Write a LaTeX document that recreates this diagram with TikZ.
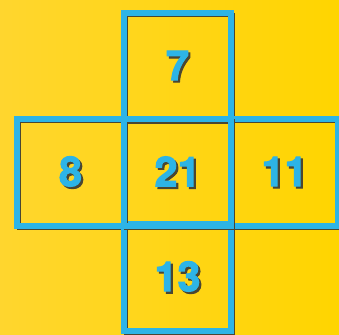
\documentclass[tikz,border=0pt]{standalone}
\usepackage{fontspec}
\setmainfont{TeX Gyre Heros}
\newfontfamily\numfont[BoldFeatures={FakeBold=2.5}]{TeX Gyre Heros}
\definecolor{bgleft}{HTML}{FFD62E}
\definecolor{bgright}{HTML}{FFD500}
\definecolor{cyanline}{HTML}{2DB4E6}
\definecolor{shadowcol}{HTML}{4A4632}
\newcommand{\shadownum}[1]{\makebox[0pt][l]{\hspace{1.6pt}\raisebox{-1.6pt}{\textcolor{shadowcol}{#1}}}#1}
\tikzset{
  cell/.style={minimum width=107*0.75pt, minimum height=107*0.75pt, inner sep=0pt, outer sep=0pt,
    preaction={draw=shadowcol, line width=2.5pt, transform canvas={shift={(1.6pt,-1.6pt)}}},
    draw=cyanline, line width=4.1pt},
  num/.style={text=cyanline, font=\numfont\bfseries\fontsize{31}{31}\selectfont},
}
\begin{document}
\begin{tikzpicture}[x=0.75pt,y=-0.75pt]
\shade[left color=bgleft, right color=bgright] (0,0) rectangle (339,335);
\useasboundingbox (0,0) rectangle (339,335);
\node[cell] (top) at (177.5,66.5) {};
\node[cell] (left) at (70.5,172.5) {};
\node[cell] (right) at (284.5,172.5) {};
\node[cell] (bottom) at (177.5,277.5) {};
\node[cell] (center) at (177.5,172.5) {};
\foreach \n/\t in {top/7,left/8,center/21,right/11,bottom/13}{
  \node[num] (\n t) at (\n.center) {\shadownum{\t}};
}
\end{tikzpicture}
\end{document}
